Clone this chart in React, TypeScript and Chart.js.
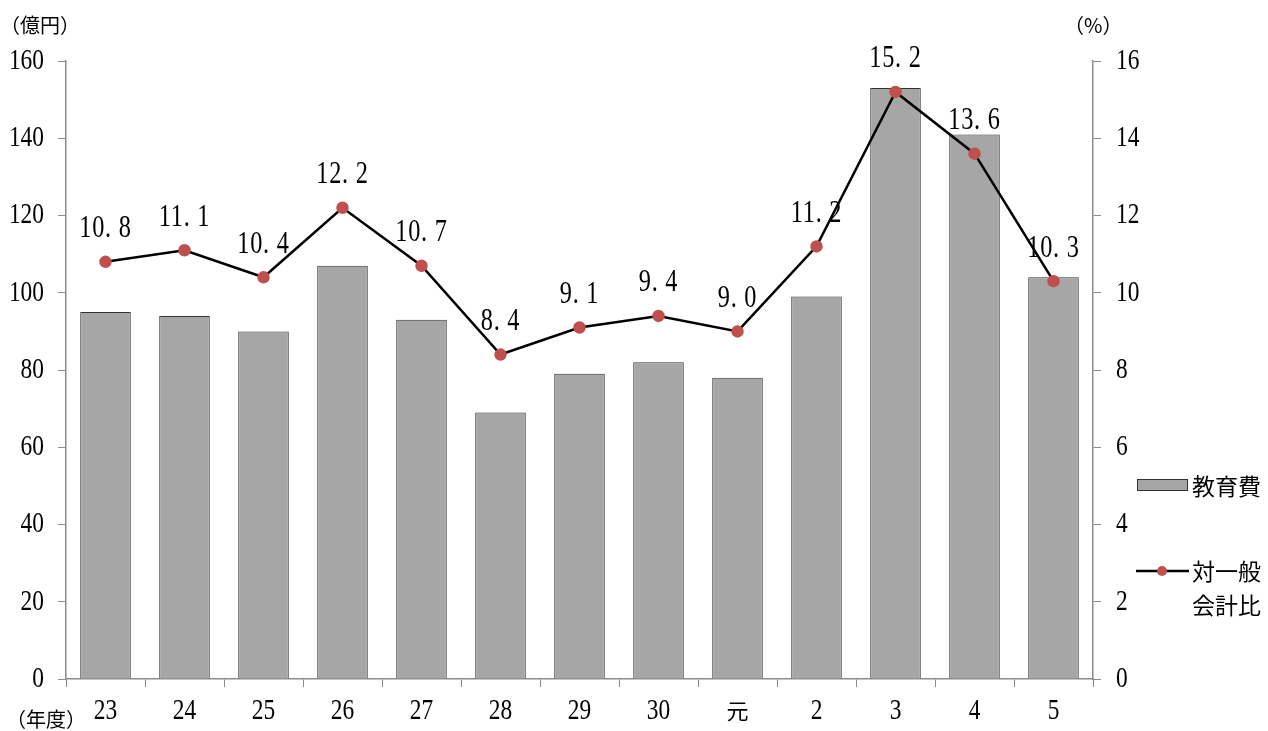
import React, { useEffect, useRef } from "react";
import { Chart, registerables } from "chart.js";

Chart.register(...registerables);

const categories = ["23", "24", "25", "26", "27", "28", "29", "30", "元", "2", "3", "4", "5"];
const educationCost = [95, 94, 90, 107, 93, 69, 79, 82, 78, 99, 153, 141, 104];
const ratioToGeneral = [10.8, 11.1, 10.4, 12.2, 10.7, 8.4, 9.1, 9.4, 9.0, 11.2, 15.2, 13.6, 10.3];
const leftTicks = [0, 20, 40, 60, 80, 100, 120, 140, 160];
const rightTicks = [0, 2, 4, 6, 8, 10, 12, 14, 16];

const SERIF = "'Liberation Serif', serif";
const CJK = "'Noto Sans CJK JP', sans-serif";
const AXIS_GRAY = "#8c8c8c";
const BAR_FILL = "#a6a6a6";
const POINT_RED = "#c0504d";

function drawText(ctx: any, text: string, x: number, y: number, align: string, size = 30, sx = 0.78) {
  const isAscii = /^[\x00-\x7f]*$/.test(text);
  ctx.save();
  ctx.translate(x, y);
  ctx.textAlign = align;
  ctx.textBaseline = "middle";
  if (isAscii) {
    ctx.font = `${size}px ${SERIF}`;
    ctx.scale(sx, 1);
  } else {
    ctx.font = `22px ${CJK}`;
  }
  ctx.fillText(text, 0, 0);
  ctx.restore();
}

const overlayPlugin = {
  id: "overlay",
  afterDatasetsDraw(chart: any) {
    const ctx = chart.ctx;
    const meta = chart.getDatasetMeta(1);
    ctx.save();
    ctx.fillStyle = "#000";
    try {
      ctx.letterSpacing = "1px";
    } catch (e) {}
    meta.data.forEach((pt: any, i: number) => {
      const txt = ratioToGeneral[i].toFixed(1).replace(".", ". ");
      drawText(ctx, txt, pt.x, pt.y - 33, "center", 32, 0.76);
    });
    ctx.restore();
  },
  afterDraw(chart: any) {
    const ctx = chart.ctx;
    const sx = chart.scales.x;
    const sy = chart.scales.y;
    const sy1 = chart.scales.y1;
    ctx.save();
    ctx.fillStyle = "#000";

    // tick labels
    leftTicks.forEach((v) => drawText(ctx, String(v), 44, sy.getPixelForValue(v), "right"));
    rightTicks.forEach((v) => drawText(ctx, String(v), 1116, sy1.getPixelForValue(v), "left"));
    categories.forEach((c, i) => drawText(ctx, c, sx.getPixelForValue(i), 711, "center"));

    ctx.textBaseline = "middle";
    ctx.textAlign = "left";
    ctx.font = `20px ${CJK}`;
    ctx.fillText("（億円）", 0, 25);
    ctx.fillText("（%）", 1064, 25);
    ctx.fillText("（年度）", 6, 719);

    // legend
    ctx.font = `23px ${CJK}`;
    ctx.fillStyle = BAR_FILL;
    ctx.fillRect(1137, 479, 51, 12);
    ctx.strokeStyle = "#333";
    ctx.lineWidth = 1;
    ctx.strokeRect(1137.5, 479.5, 50, 11);
    ctx.fillStyle = "#000";
    ctx.fillText("教育費", 1192, 486);

    ctx.strokeStyle = "#000";
    ctx.lineWidth = 2.5;
    ctx.beginPath();
    ctx.moveTo(1136, 571);
    ctx.lineTo(1189, 571);
    ctx.stroke();
    ctx.fillStyle = POINT_RED;
    ctx.beginPath();
    ctx.arc(1162, 571, 5, 0, Math.PI * 2);
    ctx.fill();
    ctx.fillStyle = "#000";
    ctx.fillText("対一般", 1192, 571);
    ctx.fillText("会計比", 1192, 605);
    ctx.restore();
  },
};

export default function App() {
  const canvasRef = useRef<HTMLCanvasElement>(null);

  useEffect(() => {
    if (!canvasRef.current) return;
    const chart = new Chart(canvasRef.current, {
      type: "bar",
      data: {
        labels: categories,
        datasets: [
          {
            type: "bar",
            label: "教育費",
            data: educationCost,
            backgroundColor: BAR_FILL,
            borderColor: "#333",
            borderWidth: 1,
            categoryPercentage: 0.64,
            barPercentage: 1,
            yAxisID: "y",
            order: 2,
          },
          {
            type: "line",
            label: "対一般会計比",
            data: ratioToGeneral,
            borderColor: "#000",
            borderWidth: 2.5,
            pointBackgroundColor: POINT_RED,
            pointBorderColor: POINT_RED,
            pointRadius: 5,
            tension: 0,
            yAxisID: "y1",
            order: 1,
          },
        ],
      },
      options: {
        animation: false,
        responsive: true,
        maintainAspectRatio: false,
        layout: { padding: { top: 61, bottom: 0, left: 0, right: 0 } },
        plugins: {
          legend: { display: false },
          tooltip: { enabled: false },
        },
        scales: {
          x: {
            grid: {
              display: true,
              drawOnChartArea: false,
              drawTicks: true,
              tickLength: 8,
              color: AXIS_GRAY,
              offset: true,
            },
            border: { color: AXIS_GRAY, width: 1.5 },
            ticks: { display: false },
            afterFit(scale: any) {
              scale.height = 52;
            },
          },
          y: {
            position: "left",
            min: 0,
            max: 160,
            afterBuildTicks(scale: any) {
              scale.ticks = leftTicks.map((v) => ({ value: v }));
            },
            grid: { drawOnChartArea: false, drawTicks: true, tickLength: 8, color: AXIS_GRAY },
            border: { color: AXIS_GRAY, width: 1.5 },
            ticks: { display: false },
            afterFit(scale: any) {
              scale.width = 66;
            },
          },
          y1: {
            position: "right",
            min: 0,
            max: 16,
            afterBuildTicks(scale: any) {
              scale.ticks = rightTicks.map((v) => ({ value: v }));
            },
            grid: { drawOnChartArea: false, drawTicks: true, tickLength: 8, color: AXIS_GRAY },
            border: { color: AXIS_GRAY, width: 1.5 },
            ticks: { display: false },
            afterFit(scale: any) {
              scale.width = 175;
            },
          },
        },
      },
      plugins: [overlayPlugin],
    });
    return () => chart.destroy();
  }, []);

  return (
    <div style={{ position: "fixed", left: 0, top: 0, width: 1268, height: 731, background: "#fff" }}>
      <canvas ref={canvasRef} />
    </div>
  );
}
